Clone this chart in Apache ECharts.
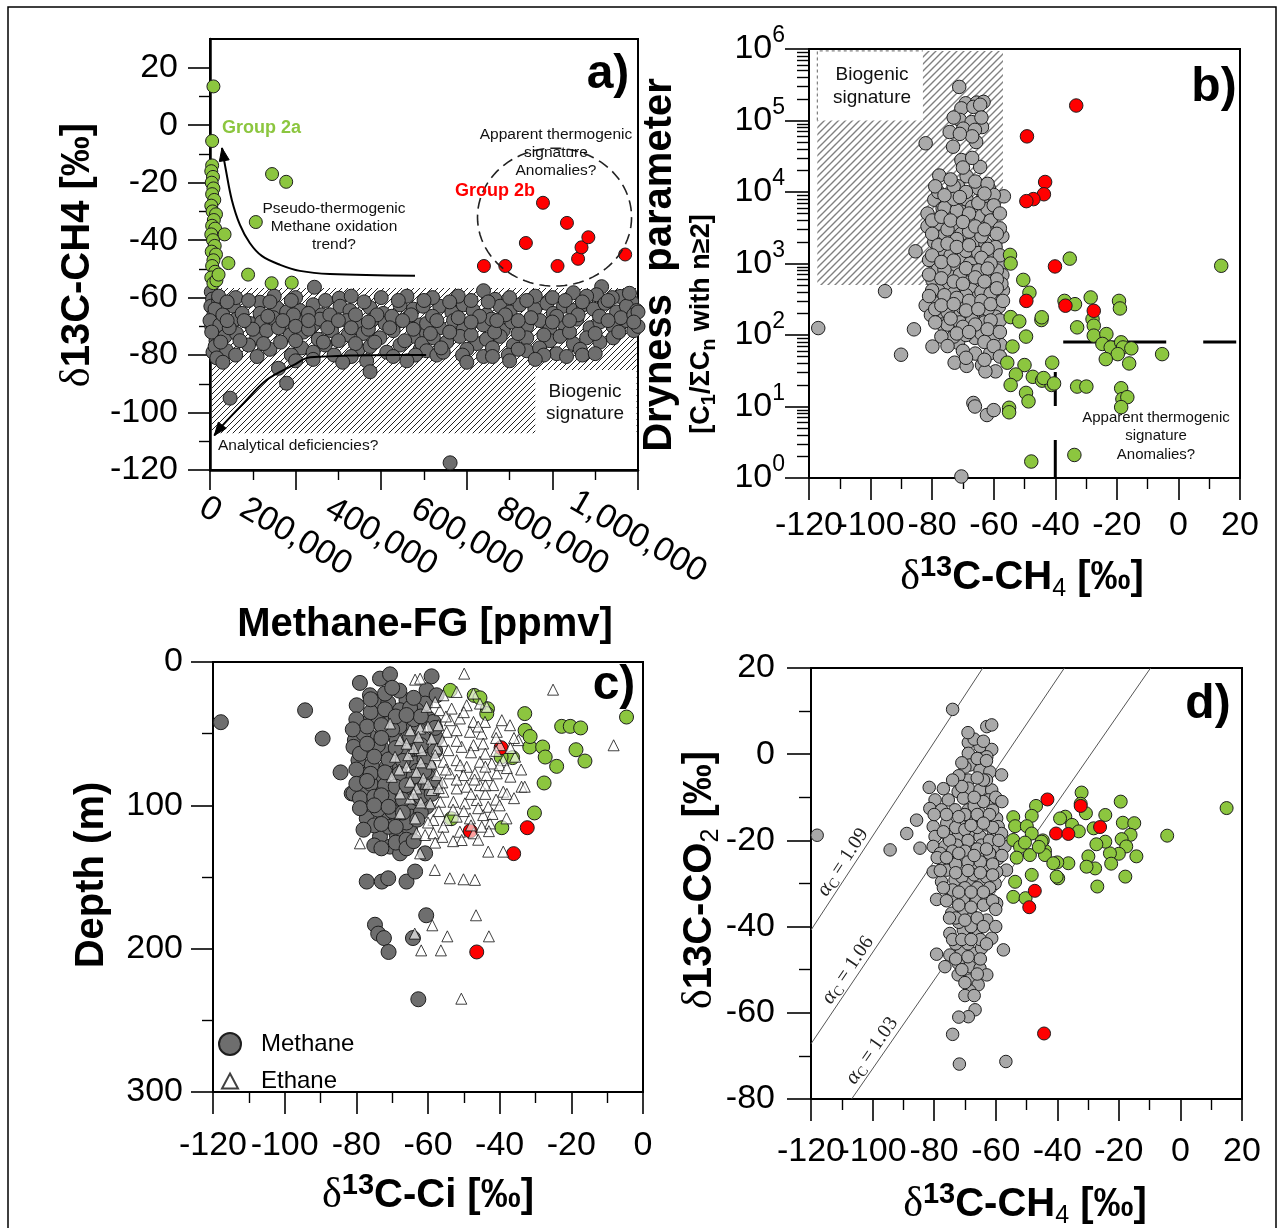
<!DOCTYPE html>
<html>
<head>
<meta charset="utf-8">
<script src="https://cdn.jsdelivr.net/npm/echarts@6/dist/echarts.min.js"></script>
<style>
html,body{margin:0;padding:0;background:#fff}
#chart{width:1284px;height:1228px}
</style>
</head>
<body>
<div id="chart"></div>
<script>
// ---------- a) delta13C-CH4 versus methane concentration of the free gas ----------
const methaneFgGray = [
[3000,-58],[6000,-60.5],[2000,-63],[9000,-66],[4000,-70],[14000,-75],[7000,-79],[20000,-61],
[244000,-56.4],[117000,-61.6],[302000,-60.2],
[11700,-64],[54500,-63],[117000,-65.5],[156000,-63.5],[179000,-65],[210000,-64.5],[241000,-62.5],[261000,-66],[304000,-63],[327000,-64.5],[374000,-63.5],[405000,-65.5],[444000,-62.5],[475000,-64],[498000,-63],
[0,-68],[23000,-69.5],[62000,-67.5],[93000,-69],[121000,-68.5],[148000,-67],[175000,-70],[214000,-68],[241000,-69.5],[257000,-67.5],[288000,-69],[319000,-68],[350000,-70],[381000,-67.5],[409000,-69],[436000,-68.5],[463000,-67],[491000,-69.5],
[4000,-72],[35000,-73.5],[62000,-72.5],[109000,-74],[132000,-71.5],[187000,-73],[218000,-72],[253000,-74.5],[284000,-71.5],[323000,-73],[358000,-72.5],[397000,-74],[428000,-71.5],[479000,-73.5],[506000,-72.5],
[12000,-77],[39000,-78.5],[90000,-76.5],[140000,-78],[214000,-77.5],[241000,-79],[269000,-76.5],[346000,-78],[374000,-77],[413000,-79],[444000,-76.5],[491000,-78],
[16000,-81],[241000,-81.5],[366000,-82],[428000,-80.5],
[160000,-84.6],[179000,-89.8],[47000,-95],[374000,-85.8],
[30000,-66],[75000,-65.5],[135000,-66.5],[195000,-66],[230000,-65.5],[280000,-66],[340000,-66],[390000,-66],[425000,-66.5],[470000,-66],
[25000,-75.5],[70000,-75],[125000,-76],[165000,-75.5],[200000,-75],[265000,-75.5],[300000,-75],[340000,-76],[385000,-75.5],[455000,-75],[495000,-76],
[45000,-70.5],[100000,-71],[160000,-70.5],[200000,-70],[230000,-71],[275000,-70.5],[330000,-70.5],[370000,-71],[420000,-70.5],[475000,-71],
[639000,-57.6],[666000,-60.6],[849000,-58.3],[915000,-56.2],[903000,-59],[958000,-59.6],[985000,-61.4],
[537000,-63],[565000,-65],[592000,-62.5],[615000,-64.5],[646000,-66],[678000,-63],[701000,-65],[724000,-62.5],[759000,-64],[787000,-62],[802000,-65.5],[826000,-63],[849000,-64.5],[872000,-62.5],[896000,-64],[923000,-62],[950000,-65],[973000,-63],[997000,-64.5],
[506000,-69],[537000,-70.5],[569000,-68],[592000,-71],[639000,-69.5],[658000,-67.5],[685000,-71.5],[705000,-68.5],[740000,-70],[771000,-68],[794000,-71],[826000,-69],[857000,-67.5],[888000,-70.5],[911000,-68.5],[942000,-70],[973000,-68],
[522000,-74],[553000,-75.5],[584000,-73.5],[623000,-76],[646000,-74.5],[678000,-73.5],[709000,-76.5],[740000,-74],[794000,-75],[818000,-73.5],[849000,-76],[880000,-74],[911000,-75.5],[942000,-74],
[506000,-78.5],[530000,-80],[545000,-79],[639000,-80.5],[697000,-80],[740000,-78.5],[810000,-79.5],[833000,-80.5],
[561000,-117.5],
[520000,-66.5],[580000,-67],[630000,-66.5],[690000,-66],[750000,-67],[810000,-66.5],[860000,-66],[910000,-66.5],[960000,-67],[990000,-66],
[515000,-72.5],[560000,-72],[610000,-73],[665000,-72],[720000,-72.5],[780000,-73],[840000,-72],[900000,-72.5],[955000,-72],[990000,-71.5],
[540000,-77.5],[600000,-78],[660000,-77.5],[720000,-78],[770000,-77.5],[865000,-78],
[1000000,-65],[1000000,-70],
[20000,-59.5],[60000,-60],[150000,-59.5],[200000,-60],[330000,-59.5],[400000,-60],[460000,-59.5],[520000,-60],[580000,-59.5],[700000,-60],[760000,-59.5],[800000,-60],[880000,-59.5],[940000,-60],[980000,-58.5],
[40000,-61.5],[90000,-61],[140000,-61.5],[190000,-61],[270000,-61],[360000,-61.5],[440000,-61],[500000,-61],[560000,-61.5],[610000,-61],[650000,-61.5],[740000,-61],[830000,-61],[870000,-61.5],[930000,-61],
[60000,-80],[110000,-80.5],[190000,-80],[290000,-80],[330000,-80.5],[480000,-80],[590000,-80],[660000,-80.5],[780000,-80],[870000,-80],[900000,-79.5],
[30000,-82.5],[200000,-82],[310000,-82.5],[460000,-82],[600000,-82.5],[700000,-82],[760000,-81.5],
[40000,-68],[80000,-68],[170000,-68],[230000,-68],[300000,-68],[370000,-68.5],[450000,-68],[530000,-68],[610000,-68.5],[670000,-68],[720000,-68],[800000,-68.5],[840000,-68],[930000,-68],[990000,-68.5]
];
const methaneFgGroup2a = [
[8000,13.5],[5000,-5.5],[5000,-14],[3000,-16],[7000,-18],[4000,-20],[8000,-22],[5000,-24],[10000,-26],[3000,-28],[6000,-30],[14000,-31],[9000,-33],[5000,-35],[12000,-36],[3000,-38],[7000,-40],[11000,-42],[4000,-44],[14000,-45],[8000,-47],[5000,-49],[12000,-51],[3000,-53],[8000,-55],[15000,-54],[20000,-52],[34000,-38],[43000,-48],[89000,-52],[107000,-33.7],[145000,-17],[178000,-19.7],[144000,-55],[191000,-54.8]
];
const methaneFgGroup2b = [
[640000,-49],[690000,-49],[738000,-41],[778000,-27],[812000,-49],[834000,-34],[860000,-46.5],[868000,-42.5],[884000,-39],[970000,-45]
];
const methaneFgTicks = [0,200000,400000,600000,800000,1000000];
const d13ChTicks = [-100,-80,-60,-40,-20,0,20];
const d13ChFirstTick = -120;
// trend sketches (ppmv, permil), drawn from tail to arrow tip
const oxidationTrend = [[479000,-52.4],[280000,-51.8],[210000,-50.7],[164000,-48.6],[121000,-45.5],[93000,-41],[70000,-34.7],[51000,-26],[37000,-15.5],[28000,-7.9]];
const analyticalTrend = [[505000,-80],[234000,-80.8],[195000,-83.5],[132000,-88.7],[78000,-96.8],[23000,-105.5],[10000,-108]];
const group2bOutline = {center:[805000,-32], rx:180000, ry:24};

// ---------- b) dryness parameter ----------
const drynessGray = [
[-71.2,295000],[-69.1,174000],[-65.5,178000],[-63.3,182000],[-70.5,148000],[-66.6,155000],[-64.4,166000],[-71,102000],[-67.2,95000],[-63.8,81000],[-74.3,69000],[-69.9,77000],[-66.1,74000],[-82.1,48000],[-73.2,43000],[-65.7,50000],[-70.5,28000],[-64.4,22400],[-77.7,17000],[-68.8,16600],[-71.6,12000],[-65,11300],[-61.6,11300],[-56.7,8700],[-60,9100],[-79.3,7800],[-73.2,6900],[-68.8,7800],[-63.8,7800],[-76.6,5900],[-81.5,5000],[-70.5,5300],[-65,4600],[-60.5,4600],[-78.2,3600],[-73.2,3500],[-68.3,4100],[-81.5,3300],[-61.6,3300],[-57.2,2400],[-76,2500],[-70.5,2600],[-66.1,2100],[-79.3,2000],[-73.2,1900],[-62.7,1900],[-59.4,1700],[-85.4,1480],[-81,1120],[-76,1380],[-70.5,1180],[-66.1,1060],[-61.6,1250],[-57.8,960],[-78.2,820],[-72.7,900],[-67.7,1000],[-63.3,900],[-60,720],[-57.2,690],[-79.9,590],[-74.3,660],[-69.4,590],[-65,520],[-60.5,560],[-76,450],[-71.6,480],[-67.2,430],[-62.7,480],[-82.1,260],[-78.2,310],[-74.3,240],[-69.9,310],[-65.5,330],[-60.5,310],[-58.3,250],[-80.4,190],[-76,180],[-71,200],[-66.6,180],[-62.7,200],[-59.4,180],[-85.9,120],[-76.6,140],[-72.7,118],[-68.3,130],[-65,118],[-60,130],[-79.9,69],[-71.6,78],[-66.1,91],[-61.1,91],[-57.8,73],[-90.1,53],[-72.7,41],[-68.8,37],[-63.8,38],[-59.4,31],[-62.7,31],[-61.1,56],[-95.3,410],[-66.6,11.2],[-66.1,10],[-62.2,7.6],[-60,8.9],[-70.5,1.05],[-117,125],
[-75,3000],[-72,2200],[-68,2800],[-64,2400],[-60,2900],[-77,1600],[-74,1300],[-69,1500],[-65,1400],[-62,1600],[-58,1300],[-76,820],[-71,700],[-67,780],[-63,650],[-59,800],[-78,420],[-73,380],[-69,360],[-64,400],[-61,380],[-57,420],[-79,230],[-75,210],[-70,240],[-66,260],[-62,230],[-58,160],[-75,140],[-71,150],[-67,160],[-63,150],[-59,110],[-73,95],[-69,100],[-64,105],[-60,95],[-76,6000],[-72,5500],[-67,6200],[-62,5800],[-73,12000],[-69,10000],[-66,14000],[-70,22000],[-67,30000],[-73,8000],[-62,13000],[-67,60000],[-64,110000],[-71,65000],[-73,110000],[-61,4000],[-58,3100],[-78,10000],[-80,4000],[-57.5,520],
[-79,12000],[-76,9000],[-74,15000],[-71,8500],[-68,5000],[-65,7000],[-63,9500],[-60,6500],[-58,5000],[-77,4500],[-74,4000],[-70,3800],[-66,3300],[-63,3000],[-59,2600],[-80,2600],[-78,1800],[-75,1900],[-72,1700],[-68,1800],[-64,1200],[-61,1000],[-80,1300],[-77,1050],[-73,1100],[-69,860],[-65,800],[-62,850],[-59,600],[-81,700],[-77,620],[-73,560],[-70,520],[-66,640],[-63,560],[-59,450],[-80,420],[-76,360],[-72,330],[-68,300],[-64,300],[-61,270],[-57,300],[-81,350],[-77,260],[-73,270],[-69,220],[-65,230],[-61,160],[-79,150],[-74,170],[-70,130],[-66,140],[-62,120],[-58,110],[-77,95],[-72,105],[-68,110],[-63,80],[-60,70],[-70,60],[-66,55],[-63,45],[-58,50],[-75,70],[-69,48]
];
const drynessGroup2a = [
[-54.7,1320],[-54.5,1000],[-50.4,590],[-48.4,390],[-44.5,162],[-54.5,178],[-51.7,155],[-49.5,95],[-53.9,69],[-55.6,41],[-50,38],[-52.8,28],[-47.3,26],[-44.3,23],[-41.2,20],[-54.5,20],[-49.5,15.5],[-48.7,11.8],[-55,9.6],[-55,8.3],[-47.8,1.7],[-41,41],
[-35.3,1170],[-37,300],[-33.6,270],[-28.5,335],[-19.3,300],[-19,235],[-27.9,167],[-27.5,135],[-32.9,128],[-27.5,98],[-23.4,103],[-24.7,75],[-22,67],[-18.6,79],[-18,67],[-15.3,65],[-19.7,54],[-23.6,46],[-16,40],[-5.3,54],[-32.9,19],[-29.9,19],[-18.6,18],[-18.2,12.7],[-16.6,13.5],[-18.6,9.8],[-33.8,2.1],[13.9,930],[-43.8,25],[-40.4,21],[-44.4,177]
];
const drynessGroup2b = [
[-33.2,162000],[-49.2,60000],[-43.3,13800],[-43.7,9300],[-47.1,7950],[-49.4,7450],[-40.1,910],[-49.4,300],[-36.7,257],[-27.5,218]
];
const drynessDecades = [0,1,2,3,4,5,6];
const thermogenicLimit = [[-40,1],[-40,80],[20,80]];

// ---------- c) delta13C of methane and ethane with depth ----------
const depthMethane = [
[-117.8,42],[-94.3,33.7],[-89.4,53.4],[-84.4,77],[-81.3,91.7],
[-79,14.6],[-73.4,11.6],[-70.6,8.6],[-59,10],
[-76.2,23.2],[-66,26.7],[-60.4,19.7],[-60.8,29],[-57.6,23.2],
[-79.9,30.2],[-74.8,29],[-71.1,28.5],[-67.8,33.6],[-63.2,33.6],[-59.9,39.4],
[-78.5,42.9],[-74.3,38.3],[-70.1,40.6],[-66,44.1],[-62.7,47.6],[-58.5,41.8],
[-80.4,54.5],[-76.2,52.2],[-72.5,48.7],[-68.7,54.5],[-65,56.9],[-61.3,53.4],[-57.6,53.4],
[-80.8,59.2],[-77.1,61.5],[-72.9,60.3],[-69.2,65],[-65.5,66.1],[-61.8,63.8],
[-79.4,68.5],[-75.7,72],[-71.5,73.1],[-67.8,73.1],[-63.6,70.8],[-59.9,73.1],
[-78,78.9],[-73.9,81.2],[-70.1,80.1],[-66,82.4],[-62.2,81.2],
[-80.8,91.7],[-77.1,90.5],[-73.4,89.3],[-69.2,91.7],[-65,90.5],[-61.3,89.3],
[-77.6,98.6],[-72.9,97.5],[-68.7,99.8],[-65,101],[-60.4,101],
[-77.1,109.1],[-72.5,106.8],[-68.7,110.2],[-64.6,107.9],
[-73.4,121.8],[-68.7,120.7],[-65,117.2],
[-70.6,128.8],[-67.8,133.5],[-60.8,133.5],
[-77.1,153.2],[-72.9,153.2],[-71.1,150.9],[-66,153.2],[-63.6,146.2],
[-60.5,176.7],[-74.8,183.3],[-73.9,189.5],[-72.3,192.6],[-71,202.3],[-64.2,192.6],[-62.7,235.3],
[-76,35],[-72,33],[-68,45],[-64,40],[-78,50],[-74,58],[-70,47],[-66,62],[-62,58],[-79,64],[-75,66],[-71,68],[-67,69],[-63,76],[-60,80],[-76,85],[-72,86],[-68,85],[-64,86],[-79,95],[-75,94],[-71,95],[-67,96],[-63,95],[-74,103],[-70,104],[-66,112],[-62,105],[-75,114],[-71,115],[-69,126],[-66,124],[-75,128],
[-80,40],[-77,45],[-73,44],[-69,38],[-65,32],[-62,38],[-58,46],[-81,47],[-77,57],[-73,53],[-69,60],[-65,52],[-61,68],[-58,62],[-80,75],[-76,78],[-72,77],[-68,78],[-64,80],[-61,76],[-58,85],[-80,85],[-77,83],[-73,93],[-69,87],[-66,86],[-62,94],[-59,92],[-79,102],[-75,100],[-71,101],[-67,105],[-63,110],[-78,117],[-73,113],[-69,115],[-66,130],[-73,130],[-64,125],[-72,22],[-68,20],[-64,25],[-70,18],[-76,26],[-66,37]
];
const depthMethane2a = [
[-53.8,19.8],[-47.1,23.3],[-43.4,32.6],[-33,36],[-32.9,47.7],[-22.7,44.9],[-20.3,44.9],[-17.4,46],[-4.6,38.4],[-31.6,59.3],[-28,59.3],[-27.3,66.3],[-24.1,72.8],[-18.7,61.2],[-16.2,69.1],[-36.4,66.7],[-39.6,66.3],[-27.6,84.4],[-30.3,105.3],[-39.4,115.6],[-53.5,109.3],[-45.5,25],[-43.6,36],[-31.5,52]
];
const depthMethane2b = [[-39.6,59.8],[-48.2,117.9],[-32.3,115.6],[-36.1,133.7],[-46.4,202.3]];
const depthEthane = [
[-49.9,8.1],[-63.6,12.3],[-62.2,11.6],[-55.7,23.2],[-52,20.9],[-47.3,22],
[-60.4,31.3],[-56.7,33.6],[-53.4,32.5],[-49.2,30.2],[-45.5,29],[-43.6,31.3],
[-70.6,42.9],[-65,47.6],[-62.2,46.4],[-57.1,44.1],[-53.9,40.6],[-51.1,39.4],[-47.3,41.8],[-44.1,41.8],[-39.4,40.6],[-37.1,44.1],
[-67.8,54.5],[-62.7,52.2],[-59,53.4],[-54.8,48.7],[-52,47.6],[-48.3,48.7],[-45,49.9],[-40.8,48.7],
[-69.2,66.1],[-65.5,65],[-61.8,61.5],[-57.6,60.3],[-54.3,61.5],[-50.6,59.2],[-47.3,58],[-44.6,56.9],[-39.9,58],[-34.8,54.5],
[-66,73.1],[-63.2,76.6],[-59,70.8],[-55.7,69.6],[-52,68.5],[-49.2,73.1],[-45.5,69.6],[-42.2,70.8],[-39,68.5],[-35.7,66.1],
[-70.1,80.1],[-65,83.5],[-61.3,81.2],[-57.6,78.9],[-53.9,77.7],[-50.1,78.9],[-46.9,77.7],[-43.6,78.9],[-40.8,77.7],
[-67.8,91.7],[-63.2,88.2],[-59,89.3],[-55.7,90.5],[-52,88.2],[-49.2,87],[-45.5,85.9],[-41.8,85.9],[-39,90.5],[-33.9,87],
[-65,95.2],[-59.4,98.6],[-56.6,97.5],[-52.9,97.5],[-49.7,98.6],[-46.4,96.3],[-43.2,101],
[-67.8,105.6],[-63.6,109.1],[-58.5,110.2],[-54.8,110.2],[-52,107.9],[-48.3,109.1],[-44.6,106.8],[-42.7,112.6],[-38.1,109.1],
[-63.2,119.5],[-60.8,120.7],[-58.5,119.5],[-55.7,114.9],[-51.1,118.4],[-47.3,119.5],[-45,114.9],[-50.6,124.2],
[-79,126.5],[-62.2,133.5],[-58.1,145.1],[-43.2,132.3],[-39,132.3],[-53.9,150.9],[-50.1,151.6],[-46.9,152],
[-25.1,19.3],[-8.2,58.1],[-46.6,176.7],[-58.8,183.7],[-63.7,189.5],[-54.6,191.4],[-43,191.4],[-61.9,201.2],[-56.4,201.2],[-50.7,234.9],
[-36,53],[-33,87],[-34,75],[-38,92],
[-58,28],[-55,38],[-50,35],[-46,45],[-41,53],[-56,55],[-52,55],[-48,63],[-44,64],[-41,62],[-37,60],[-58,65],[-55,75],[-51,72],[-47,82],[-44,73],[-40,72],[-37,80],[-60,85],[-56,84],[-52,82],[-48,92],[-44,92],[-41,96],[-36,95],[-62,98],[-57,104],[-53,103],[-50,104],[-46,102],[-42,106],[-60,112],[-56,122],[-53,125],[-48,114],[-64,92],[-64,60],[-60,45],[-66,57],[-68,75],[-62,70],[-57,88],[-44,86],[-38,74],[-40,100],[-46,124],[-43,118],[-58,126]
];
const depthTicks = [0,100,200,300];
const ciTicks = [-120,-100,-80,-60,-40,-20,0];

// ---------- d) delta13C-CO2 versus delta13C-CH4 ----------
const co2Gray = [
[-74,10.4],[-62.9,6.4],[-61.3,6.8],[-68.9,2.7],[-65.1,1.8],[-61.3,1.1],[-68.9,0.2],[-62.9,-0.6],[-68.4,-2.5],[-65.1,-3.7],[-61.9,-4.1],[-58.1,-4.8],[-68.9,-6],[-81.6,-7.7],[-72.2,-8.7],[-68.9,-7.9],[-65.1,-8.3],[-61.3,-8.3],[-79.7,-10.6],[-75.4,-10.6],[-70.5,-10.2],[-66.2,-10.6],[-62.4,-10.6],[-85.7,-15.3],[-88.9,-18.4],[-94.3,-22.2],[-84.6,-21.8],[-81.4,-12.6],[-77.6,-12.9],[-73.2,-12.9],[-68.9,-12.9],[-65.1,-13.7],[-59.7,-14.9],[-80.3,-16.8],[-75.9,-16],[-71.6,-16.4],[-67.8,-15.6],[-62.9,-16.4],[-59.2,-16.8],[-79.7,-19.1],[-75.9,-18.7],[-72.2,-19.1],[-68.9,-18.4],[-65.1,-19.1],[-60.8,-18.7],[-58.1,-18.4],[-80.3,-21.4],[-76.5,-21.4],[-72.7,-21.1],[-68.4,-21.4],[-64.6,-21.1],[-60.8,-21.8],[-57,-21.4],[-77.6,-24.5],[-73.8,-24.2],[-70,-23.8],[-65.7,-23.8],[-62.4,-24.5],[-59.2,-24.2],[-56.5,-26.9],[-80.3,-27.3],[-75.9,-26.9],[-71.6,-26.5],[-67.8,-26.1],[-63.5,-26.9],[-59.7,-27.3],[-77.6,-29.6],[-73.2,-29.2],[-68.9,-29.6],[-64.6,-29.2],[-60.2,-30],[-79.2,-33.7],[-74.3,-33],[-70.5,-33.8],[-66.2,-33.4],[-62.9,-33],[-59.7,-34.6],[-74.3,-36.9],[-70.5,-36.1],[-67.3,-37.7],[-62.9,-38.5],[-74.9,-41.6],[-70.5,-40.8],[-66.2,-41.6],[-61.3,-42.7],[-57.5,-45.4],[-79.2,-46.4],[-74.9,-46.6],[-71.1,-45.8],[-67.3,-46.2],[-64.6,-45],[-76.5,-49.3],[-72.2,-48.5],[-68.4,-49.3],[-65.1,-49.7],[-62.9,-51.2],[-72.2,-51.2],[-68.4,-52.4],[-65.7,-53.5],[-68.4,-54.9],[-66.7,-59.3],[-68.9,-60.9],[-74,-65],[-71.8,-71.9],[-56.7,-71.3],[-118,-18.8],
[-70,-3],[-66,-1],[-63,-6],[-72,-5],[-67,-12],[-70,-14],[-64,-11],[-61,-13],[-76,-14],[-73,-17],[-70,-17.5],[-66,-17],[-62,-20],[-69,-20],[-75,-20],[-78,-23],[-74,-22.5],[-70,-22.5],[-66,-22],[-62,-23],[-73,-25.5],[-69,-25],[-65,-25],[-61,-25.5],[-78,-27],[-71,-28.5],[-67,-28],[-63,-28.5],[-74,-31.5],[-70,-31],[-66,-31],[-62,-31],[-72,-35],[-68,-35.5],[-64,-35],[-72,-39],[-68,-40],[-65,-43],[-69,-44],[-73,-44],[-67,-10],[-64,-6],[-60,-10],[-71,-7.5],[-66,-5.5],[-67,3.5],[-63,-1.5],[-61,-17],[-65,-47.5],[-70,-56],[-72,-61],
[-77,-8],[-74,-6],[-71,-2],[-69,5],[-64,3],[-66,-14],[-62,-14],[-58,-11],[-80,-14],[-77,-18],[-72,-14.5],[-68,-16.5],[-64,-16],[-59,-20],[-79,-24],[-76,-24],[-72,-23],[-67,-23.5],[-63,-22],[-58,-23.5],[-77,-31],[-73,-27.5],[-69,-27],[-65,-27.5],[-61,-28],[-76,-34],[-72,-32],[-68,-32],[-64,-32],[-61,-34],[-73,-38],[-70,-38.5],[-66,-38],[-64,-40],[-74,-43],[-71,-43],[-68,-43],[-63,-44],[-73,-47.5],[-69,-47],[-66,-51],[-71,-50],[-70,-53],[-67,-56],[-60,-36],[-60,-40],[-75,-38]
];
const co2Group2a = [
[-32.1,-8.9],[-32.4,-11.5],[-30.7,-13.7],[-24.4,-14.1],[-19.4,-11],[15,-12.5],[-4.3,-18.9],[-18.7,-15.9],[-15,-16],[-16.2,-18.7],[-19.1,-19.7],[-17.6,-21.4],[-14.3,-23.7],[-20,-23.1],[-22.9,-23],[-24.4,-20.3],[-27.3,-20.9],[-29.9,-23.7],[-27.7,-26.5],[-30.5,-26.1],[-27,-30.7],[-22.5,-25.4],[-17.9,-28.4],[-36.4,-25.3],[-40,-25.1],[-39.7,-28.8],[-44,-22.4],[-44.7,-20],[-37.4,-14.5],[-35.2,-16.4],[-33,-17.9],[-28.2,-17.2],
[-46.9,-12],[-48.3,-14.3],[-54.3,-14.6],[-53.7,-16.7],[-49.9,-16.7],[-54.3,-19.9],[-48.3,-18.4],[-45.1,-20.3],[-48.9,-23.4],[-44,-23.4],[-41.3,-25.3],[-40.2,-28.4],[-48.3,-28],[-53.7,-29.6],[-54.3,-33.1],[-50.3,-33.4],[-52.1,-21.5],[-39.1,-14.9],[-53.2,-24],[-50.5,-20.5],[-46,-21.5]
];
const co2Group2b = [[-43.2,-10.5],[-32.4,-12],[-26.1,-16.9],[-40.4,-18.4],[-36.4,-18.5],[-47.3,-31.7],[-49.1,-35.5],[-44.3,-64.8]];
const co2Ticks = [-80,-60,-40,-20,0,20];
// fractionation lines: end points (CH4, CO2) and their alpha_C
const alphaLines = [
  {alpha:'1.09', ends:[[-120,-40.8],[-64.2,20]], labelAt:-109.6},
  {alpha:'1.06', ends:[[-120,-67.2],[-37.7,20]], labelAt:-108},
  {alpha:'1.03', ends:[[-106.8,-80],[-9.7,20]], labelAt:-100.2}
];

// ---------- styling ----------
const SANS = "'Liberation Sans', Arial, Helvetica, sans-serif";
const SERIF = "'Liberation Serif', 'Times New Roman', serif";
const GREEN = '#8cc63f', RED = '#ff0000', DARK = '#6e6e6e', LIGHT = '#a9a9a9';

function hatchPattern(size, color, lw) {
  const c = document.createElement('canvas');
  c.width = size; c.height = size;
  const g = c.getContext('2d');
  g.strokeStyle = color; g.lineWidth = lw;
  g.beginPath();
  g.moveTo(-1, size + 1); g.lineTo(size + 1, -1);
  g.moveTo(-1, 1); g.lineTo(1, -1);
  g.moveTo(size - 1, size + 1); g.lineTo(size + 1, size - 1);
  g.stroke();
  return {image: c, repeat: 'repeat'};
}

function axis(o) {
  const lw = o.lineWidth || 2;
  return {
    type: o.type || 'value', gridIndex: o.grid, min: o.min, max: o.max,
    interval: o.interval, inverse: !!o.inverse, logBase: o.logBase, position: o.position,
    axisLine: {show: o.bare ? false : true, onZero: false, lineStyle: {color: '#000', width: lw}},
    axisTick: Object.assign({show: !o.bare, length: o.tick || 22, lineStyle: {color: '#000', width: 1.6}}, o.tickExtra || {}),
    minorTick: {show: !o.bare, splitNumber: o.minorSplit || 2, length: o.minor || 11, lineStyle: {color: '#000', width: 1.4}},
    splitLine: {show: false}, minorSplitLine: {show: false},
    axisLabel: Object.assign({color: '#000', fontSize: 34, fontFamily: SANS, margin: o.margin || 32,
      hideOverlap: false, showMinLabel: true, showMaxLabel: true}, o.label || {})
  };
}
const inList = list => v => (list.indexOf(v) >= 0 ? String(v) : '');

const grids = [
  {left: 210, top: 39, width: 428, height: 431},
  {left: 809, top: 49, width: 431, height: 429},
  {left: 213, top: 662, width: 430, height: 430},
  {left: 811, top: 668, width: 431, height: 431}
].map(g => Object.assign({show: true, borderColor: '#000', borderWidth: 2, backgroundColor: 'transparent', containLabel: false, outerBoundsMode: 'none'}, g));

const xAxes = [
  axis({grid: 0, min: 0, max: 1000000, interval: 200000, lineWidth: 2.5, tick: 20, minor: 10, margin: 67,
    label: {rotate: -30, align: 'center', verticalAlign: 'middle',
      formatter: v => (methaneFgTicks.indexOf(v) < 0 ? '' : (v === 0 ? '{z|0}' : v.toLocaleString('en-US'))),
      rich: {z: {fontSize: 34, fontFamily: SANS, color: '#000', padding: [0, 27, 47, 0]}}}}),
  axis({grid: 1, min: -120, max: 20, interval: 20, margin: 31, position: 'bottom', label: {formatter: inList(d13ChTicks)}}),
  axis({grid: 2, min: -120, max: 0, interval: 20, margin: 37, label: {formatter: inList(ciTicks)}}),
  axis({grid: 3, min: -120, max: 20, interval: 20, margin: 36, position: 'bottom', label: {formatter: inList(d13ChTicks)}}),
  // the crowded first label of panels b and d, set on its own label-only axis so it is not dropped
  axis({grid: 1, min: -120, max: 20, interval: 20, margin: 31, position: 'bottom', bare: true,
    label: {formatter: v => (v === d13ChFirstTick ? String(v) : '')}}),
  axis({grid: 3, min: -120, max: 20, interval: 20, margin: 36, position: 'bottom', bare: true,
    label: {formatter: v => (v === d13ChFirstTick ? String(v) : '')}})
];
const yAxes = [
  axis({grid: 0, min: -120, max: 30, interval: 20, lineWidth: 2.5, tick: 22, minor: 11, margin: 32,
    tickExtra: {customValues: [-120,-100,-80,-60,-40,-20,0,20]},
    label: {customValues: [-120,-100,-80,-60,-40,-20,0,20], formatter: v => String(v)}}),
  axis({grid: 1, type: 'log', logBase: 10, min: 1, max: 1000000, tick: 24, minor: 12, minorSplit: 9, margin: 24,
    label: {formatter: v => {
      const e = Math.round(Math.log10(v));
      return drynessDecades.indexOf(e) >= 0 ? '{b|10}{s|' + e + '}' : '';
    },
    rich: {b: {fontSize: 34, fontFamily: SANS, color: '#000', verticalAlign: 'middle'},
           s: {fontSize: 23, fontFamily: SANS, color: '#000', verticalAlign: 'middle', padding: [0, 0, 26, 0]}}}}),
  axis({grid: 2, min: 0, max: 300, interval: 100, inverse: true, margin: 30, label: {formatter: inList(depthTicks)}}),
  axis({grid: 3, min: -80, max: 20, interval: 20, tick: 24, minor: 12, margin: 36, label: {formatter: inList(co2Ticks)}})
];

function dots(name, gi, data, color, size, extra) {
  return Object.assign({
    type: 'scatter', name: name, xAxisIndex: gi, yAxisIndex: gi, data: data,
    symbol: 'circle', symbolSize: size, clip: false, z: 3, silent: true,
    itemStyle: {color: color, borderColor: '#1e1e1e', borderWidth: 1, opacity: 1},
    emphasis: {disabled: true}
  }, extra || {});
}
function guide(gi, data, lineStyle, z) {
  return {type: 'line', xAxisIndex: gi, yAxisIndex: gi, data: data, symbol: 'none', silent: true,
    z: z || 2, lineStyle: lineStyle, emphasis: {disabled: true}, animation: false};
}

const series = [
  // a) biogenic window
  {type: 'scatter', xAxisIndex: 0, yAxisIndex: 0, data: [], z: 1, silent: true,
    markArea: {silent: true, z: 1, itemStyle: {color: hatchPattern(6, '#222', 1)},
      data: [
        [{coord: [4000, -56.7]}, {coord: [997000, -107.2]}],
        [{coord: [760000, -85.2], itemStyle: {color: '#fff'}}, {coord: [996000, -108.5]}]
      ]}},
  dots('a gray', 0, methaneFgGray, DARK, 14),
  dots('a 2a', 0, methaneFgGroup2a, GREEN, 13),
  dots('a 2b', 0, methaneFgGroup2b, RED, 13),

  // b) biogenic window
  {type: 'scatter', xAxisIndex: 1, yAxisIndex: 1, data: [], z: 1, silent: true,
    markArea: {silent: true, z: 1, itemStyle: {color: hatchPattern(7, '#808080', 1.4)},
      data: [
        [{coord: [-117.3, 500]}, {coord: [-57, 940000]}],
        [{coord: [-117.3, 100000], itemStyle: {color: '#fff'}}, {coord: [-83, 940000]}]
      ]}},
  guide(1, [[-117.3, 100000], [-117.3, 940000], [-83, 940000]], {color: '#666', width: 1, type: [3, 3]}, 1),
  guide(1, thermogenicLimit, {color: '#000', width: 3, type: [38, 34, 34, 38, 103, 37, 33, 40]}, 2),
  dots('b gray', 1, drynessGray, LIGHT, 13.5),
  dots('b 2a', 1, drynessGroup2a, GREEN, 13.5),
  dots('b 2b', 1, drynessGroup2b, RED, 13.5),

  // c) depth profile
  dots('Methane', 2, depthMethane, DARK, 15),
  dots('c 2a', 2, depthMethane2a, GREEN, 14),
  dots('c 2b', 2, depthMethane2b, RED, 14),
  dots('Ethane', 2, depthEthane, 'rgba(255,255,255,0.78)', 11, {symbol: 'triangle', z: 4,
    itemStyle: {color: 'rgba(255,255,255,0.78)', borderColor: '#111', borderWidth: 1}}),

  // d) carbon isotope fractionation
  ...alphaLines.map(l => guide(3, l.ends, {color: '#555', width: 1}, 1)),
  dots('d gray', 3, co2Gray, LIGHT, 12.5),
  dots('d 2a', 3, co2Group2a, GREEN, 13),
  dots('d 2b', 3, co2Group2b, RED, 13)
];

const legendText = {fontSize: 24, fontFamily: SANS, color: '#000'};
const option = {
  animation: false,
  backgroundColor: '#fff',
  textStyle: {fontFamily: SANS},
  grid: grids, xAxis: xAxes, yAxis: yAxes, series: series,
  legend: [
    {show: true, data: ['Methane'], left: 213, top: 1027, itemWidth: 22, itemHeight: 22, selectedMode: false,
      textStyle: Object.assign({padding: [0, 0, 0, 15]}, legendText)},
    {show: true, data: ['Ethane'], left: 216, top: 1064, itemWidth: 16, itemHeight: 15, selectedMode: false,
      textStyle: Object.assign({padding: [0, 0, 0, 18]}, legendText)}
  ]
};

const chart = echarts.init(document.getElementById('chart'), null, {renderer: 'canvas', width: 1284, height: 1228});
chart.setOption(option);

// ---------- annotations placed through the axes ----------
const px = (gi, p) => chart.convertToPixel({gridIndex: gi}, p);
function arrowHead(tip, from, len, half) {
  const dx = tip[0] - from[0], dy = tip[1] - from[1];
  const d = Math.hypot(dx, dy) || 1, ux = dx / d, uy = dy / d;
  const bx = tip[0] - ux * len, by = tip[1] - uy * len;
  return [tip, [bx - uy * half, by + ux * half], [bx + uy * half, by - ux * half]];
}
function trend(points) {
  const p = points.map(q => px(0, q));
  const n = p.length;
  return [
    {type: 'polyline', z: 5, silent: true, shape: {points: p, smooth: 0.35},
      style: {stroke: '#000', lineWidth: 2, fill: null}},
    {type: 'polygon', z: 6, silent: true, shape: {points: arrowHead(p[n - 1], p[n - 2], 13, 5)},
      style: {fill: '#000', stroke: '#000', lineWidth: 1}}
  ];
}
function outline(o) {
  const c = px(0, o.center), e = px(0, [o.center[0] + o.rx, o.center[1] + o.ry]);
  const rx = Math.abs(e[0] - c[0]), ry = Math.abs(e[1] - c[1]);
  const pts = [];
  for (let i = 0; i <= 96; i++) {
    const t = i / 96 * Math.PI * 2;
    pts.push([c[0] + rx * Math.cos(t), c[1] + ry * Math.sin(t)]);
  }
  return {type: 'polyline', z: 4, silent: true, shape: {points: pts},
    style: {stroke: '#222', lineWidth: 1.6, fill: null, lineDash: [11, 6]}};
}
function txt(x, y, text, st, rot) {
  return {type: 'text', x: x, y: y, rotation: rot || 0, z: 20, silent: true,
    style: Object.assign({text: text, fill: '#000', fontFamily: SANS, fontSize: 15.5,
      align: 'center', verticalAlign: 'middle', textAlign: 'center', textVerticalAlign: 'middle'}, st || {})};
}
const isoRich = {
  g: {fontFamily: SERIF, fontSize: 42, fontWeight: 'normal', fill: '#000', color: '#000'},
  t: {fontFamily: SANS, fontSize: 40, fontWeight: 'bold', fill: '#000', color: '#000'},
  sup: {fontFamily: SANS, fontSize: 29, fontWeight: 'bold', fill: '#000', color: '#000', padding: [0, 0, 20, 0]},
  sub: {fontFamily: SANS, fontSize: 25, fontWeight: 'normal', fill: '#000', color: '#000', padding: [22, 0, 0, 0]},
  b: {fontFamily: SANS, fontSize: 27, fontWeight: 'bold', fill: '#000', color: '#000'},
  bs: {fontFamily: SANS, fontSize: 20, fontWeight: 'bold', fill: '#000', color: '#000', padding: [15, 0, 0, 0]}
};
const bold40 = {fontSize: 40, fontWeight: 'bold'};
const letter = {fontSize: 48, fontWeight: 'bold'};

const alphaRich = {
  a: {fontFamily: SERIF, fontSize: 21, fontStyle: 'italic', fill: '#222', color: '#222'},
  c: {fontFamily: SERIF, fontSize: 14, fill: '#222', color: '#222', padding: [10, 0, 0, 0]},
  v: {fontFamily: SERIF, fontSize: 20, fill: '#222', color: '#222'}
};
const alphaLabels = alphaLines.map(l => {
  const p0 = px(3, l.ends[0]), p1 = px(3, l.ends[1]);
  const ang = Math.atan2(p0[1] - p1[1], p1[0] - p0[0]);
  const slope = (l.ends[1][1] - l.ends[0][1]) / (l.ends[1][0] - l.ends[0][0]);
  const onLine = px(3, [l.labelAt, l.ends[0][1] + slope * (l.labelAt - l.ends[0][0])]);
  return txt(onLine[0], onLine[1] - 19, '{a|α}{c|C}{v| = ' + l.alpha + '}', {rich: alphaRich}, ang);
});

const elements = [
  {type: 'rect', z: 0, silent: true, shape: {x: 8, y: 7, width: 1268, height: 1240},
    style: {fill: null, stroke: '#000', lineWidth: 1.5}},
  ...trend(oxidationTrend),
  ...trend(analyticalTrend),
  outline(group2bOutline),
  ...alphaLabels,

  // a) texts
  txt(222, 128, 'Group 2a', {fill: GREEN, fontSize: 18, fontWeight: 'bold', align: 'left', textAlign: 'left'}),
  txt(334, 227, 'Pseudo-thermogenic\nMethane oxidation\ntrend?', {lineHeight: 18, fill: '#111'}),
  txt(556, 153, 'Apparent thermogenic\nsignature\nAnomalies?', {lineHeight: 18, fill: '#111'}),
  txt(495, 191, 'Group 2b', {fill: RED, fontSize: 18, fontWeight: 'bold'}),
  txt(585, 403, 'Biogenic\nsignature', {fontSize: 19, lineHeight: 22, fill: '#111'}),
  txt(218, 446, 'Analytical deficiencies?', {align: 'left', textAlign: 'left', fill: '#111'}),
  txt(608, 75, 'a)', letter),
  txt(425, 625, 'Methane-FG [ppmv]', bold40),
  txt(78, 255, '{g|δ}{t|13C-CH4 [‰]}', {rich: isoRich}, Math.PI / 2),

  // b) texts
  txt(872, 86, 'Biogenic\nsignature', {fontSize: 19, lineHeight: 23, fill: '#111'}),
  txt(1156, 436, 'Apparent thermogenic\nsignature\nAnomalies?', {fontSize: 15, lineHeight: 18.5, fill: '#111'}),
  txt(1214, 88, 'b)', letter),
  txt(660, 265, 'Dryness  parameter', bold40, Math.PI / 2),
  txt(702, 324, '{b|[C}{bs|1}{b|/ΣC}{bs|n}{b| with n≥2]}', {rich: isoRich}, Math.PI / 2),
  txt(1022, 578, '{g|δ}{sup|13}{t|C-CH}{sub|4}{t| [‰]}', {rich: isoRich}),

  // c) texts
  txt(614, 686, 'c)', letter),
  txt(92, 875, 'Depth (m)', bold40, Math.PI / 2),
  txt(428, 1196, '{g|δ}{sup|13}{t|C-Ci [‰]}', {rich: isoRich}),

  // d) texts
  txt(1208, 705, 'd)', letter),
  txt(700, 880, '{g|δ}{t|13C-CO}{sub|2}{t| [‰]}', {rich: isoRich}, Math.PI / 2),
  txt(1025, 1205, '{g|δ}{sup|13}{t|C-CH}{sub|4}{t| [‰]}', {rich: isoRich})
];
chart.setOption({graphic: {elements: elements}});
</script>
</body>
</html>
